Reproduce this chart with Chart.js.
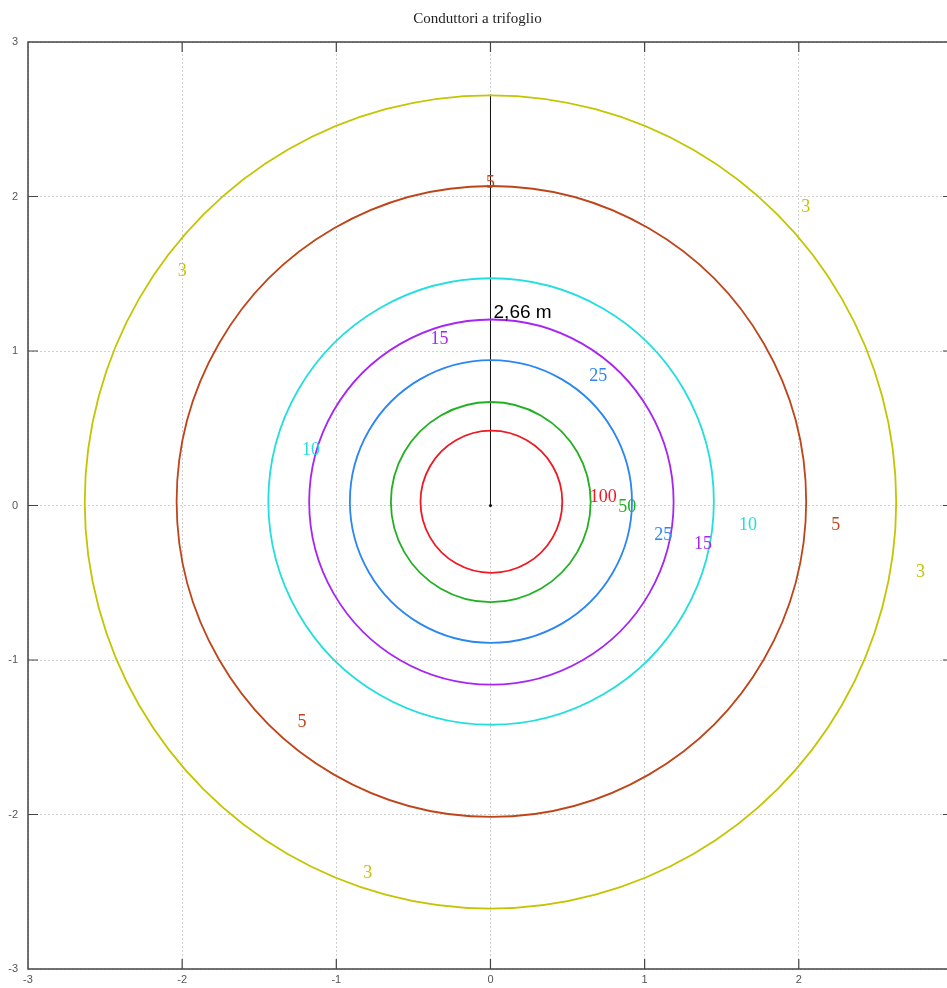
<!DOCTYPE html>
<html>
<head>
<meta charset="utf-8">
<script src="https://cdn.jsdelivr.net/npm/chart.js@4.4.1/dist/chart.umd.min.js"></script>
<style>
  html, body { margin: 0; padding: 0; background: #fff; overflow: hidden; }
  #wrap { position: relative; width: 960px; height: 988px; }
</style>
</head>
<body>
<div id="wrap"><canvas id="chart"></canvas></div>
<script>
// contour levels and colours
var levels = ['3', '5', '10', '15', '25', '50', '100'];
var levelColors = ['#c4c400', '#be4519', '#22dede', '#a824f2', '#2a86f2', '#22b022', '#ee1822'];

// points (x, y in m)
var contourX = [
  [2.632, 2.279, 1.316, 0.000, -1.316, -2.279, -2.632, -2.279, -1.316, 0.000, 1.316, 2.279],
  [2.048, 1.774, 1.027, 0.006, -1.015, -1.762, -2.036, -1.762, -1.015, 0.006, 1.027, 1.774],
  [1.449, 1.255, 0.727, 0.004, -0.719, -1.247, -1.441, -1.247, -0.719, 0.004, 0.727, 1.255],
  [1.188, 1.030, 0.597, 0.006, -0.585, -1.018, -1.176, -1.018, -0.585, 0.006, 0.597, 1.030],
  [0.918, 0.795, 0.461, 0.003, -0.455, -0.789, -0.912, -0.789, -0.455, 0.003, 0.461, 0.795],
  [0.650, 0.563, 0.326, 0.002, -0.322, -0.559, -0.646, -0.559, -0.322, 0.002, 0.326, 0.563],
  [0.466, 0.404, 0.236, 0.006, -0.224, -0.392, -0.454, -0.392, -0.224, 0.006, 0.236, 0.404]
];
var contourY = [
  [0.023, 1.339, 2.302, 2.655, 2.302, 1.339, 0.023, -1.293, -2.256, -2.609, -2.256, -1.293],
  [0.026, 1.047, 1.794, 2.068, 1.794, 1.047, 0.026, -0.995, -1.742, -2.016, -1.742, -0.995],
  [0.026, 0.749, 1.277, 1.471, 1.277, 0.749, 0.026, -0.697, -1.225, -1.419, -1.225, -0.697],
  [0.022, 0.613, 1.046, 1.204, 1.046, 0.613, 0.022, -0.569, -1.002, -1.160, -1.002, -0.569],
  [0.026, 0.484, 0.818, 0.941, 0.818, 0.484, 0.026, -0.432, -0.766, -0.889, -0.766, -0.432],
  [0.022, 0.346, 0.583, 0.670, 0.583, 0.346, 0.022, -0.302, -0.539, -0.626, -0.539, -0.302],
  [0.024, 0.254, 0.422, 0.484, 0.422, 0.254, 0.024, -0.206, -0.374, -0.436, -0.374, -0.206]
];

// contour labels
var labelText = ['3', '3', '3', '3', '5', '5', '5', '10', '10', '15', '15', '25', '25', '100', '50'];
var labelX = [-2.0, 2.045, 2.79, -0.796, 0.0, 2.24, -1.223, -1.165, 1.67, -0.33, 1.379, 0.699, 1.12, 0.731, 0.887];
var labelY = [1.515, 1.929, -0.434, -2.382, 2.084, -0.129, -1.404, 0.356, -0.129, 1.074, -0.252, 0.835, -0.194, 0.052, -0.013];
var labelLevel = [0, 0, 0, 0, 1, 1, 1, 2, 2, 3, 3, 4, 4, 6, 5];

// distance marker
var markerX = [0, 0];
var markerY = [0, 2.66];
var markerText = '2,66 m';

var axisTicks = [-3, -2, -1, 0, 1, 2, 3];

var datasets = [];
for (var i = 0; i < levels.length; i++) {
  var pts = [];
  for (var j = 0; j < contourX[i].length; j++) {
    pts.push({ x: contourX[i][j], y: contourY[i][j] });
  }
  datasets.push({
    label: levels[i],
    data: pts,
    borderColor: levelColors[i],
    borderWidth: 1.8,
    pointRadius: 0,
    tension: 0.35,
    fill: false,
    closed: true
  });
}
datasets.push({
  label: markerText,
  data: markerX.map(function (x, k) { return { x: x, y: markerY[k] }; }),
  borderColor: '#111',
  borderWidth: 1,
  pointRadius: [1.5, 0],
  pointBackgroundColor: '#111',
  pointBorderWidth: 0,
  tension: 0,
  fill: false
});

// close the contour lines smoothly
var loopPlugin = {
  id: 'loop',
  beforeDatasetsDraw: function (chart) {
    chart.data.datasets.forEach(function (ds, idx) {
      if (!ds.closed) return;
      var line = chart.getDatasetMeta(idx).dataset;
      line._loop = true;
      line._fullLoop = true;
      line._pointsUpdated = false;
      line._path = undefined;
      delete line._segments;
    });
  }
};

var framePlugin = {
  id: 'frame',
  afterDatasetsDraw: function (chart) {
    var ctx = chart.ctx;
    var a = chart.chartArea;
    var xs = chart.scales.x, ys = chart.scales.y;
    ctx.save();
    ctx.strokeStyle = '#444';
    ctx.lineWidth = 1.5;
    ctx.strokeRect(a.left, a.top, a.right - a.left, a.bottom - a.top);
    ctx.lineWidth = 1.2;
    ctx.beginPath();
    axisTicks.forEach(function (t) {
      if (t === -3 || t === 3) return;
      var px = xs.getPixelForValue(t);
      ctx.moveTo(px, a.bottom); ctx.lineTo(px, a.bottom - 10);
      ctx.moveTo(px, a.top); ctx.lineTo(px, a.top + 10);
      var py = ys.getPixelForValue(t);
      ctx.moveTo(a.left, py); ctx.lineTo(a.left + 10, py);
      ctx.moveTo(a.right, py); ctx.lineTo(a.right - 10, py);
    });
    ctx.stroke();

    // contour labels
    ctx.font = '18px "Liberation Serif", "Times New Roman", serif';
    ctx.textAlign = 'center';
    ctx.textBaseline = 'middle';
    for (var k = 0; k < labelText.length; k++) {
      ctx.fillStyle = levelColors[labelLevel[k]];
      ctx.fillText(labelText[k], xs.getPixelForValue(labelX[k]), ys.getPixelForValue(labelY[k]));
    }

    // distance label
    ctx.font = '19px "Liberation Sans", Arial, sans-serif';
    ctx.fillStyle = '#000';
    ctx.textAlign = 'left';
    ctx.fillText(markerText, xs.getPixelForValue(0.02), ys.getPixelForValue(1.25));
    ctx.restore();
  }
};

var tickFont = { family: '"Liberation Sans", Arial, sans-serif', size: 11 };

new Chart(document.getElementById('chart'), {
  type: 'line',
  data: { datasets: datasets },
  options: {
    responsive: true,
    maintainAspectRatio: false,
    animation: false,
    layout: { padding: { left: 0, right: 5, top: 0, bottom: 0 } },
    plugins: {
      legend: { display: false },
      tooltip: { enabled: false },
      title: {
        display: true,
        text: 'Conduttori a trifoglio',
        color: '#222',
        font: { family: '"Liberation Serif", "Times New Roman", serif', size: 15, weight: 'normal', lineHeight: 1.2 },
        padding: { top: 10, bottom: 14 }
      }
    },
    scales: {
      x: {
        type: 'linear',
        min: -3,
        max: 3,
        ticks: { stepSize: 1, color: '#555', font: tickFont, padding: 4, maxRotation: 0 },
        grid: { color: '#cfcfcf', lineWidth: 1, drawTicks: false },
        border: { display: false, dash: [2, 2] },
        afterFit: function (s) { s.height = 19; }
      },
      y: {
        type: 'linear',
        min: -3,
        max: 3,
        ticks: { stepSize: 1, color: '#555', font: tickFont, padding: 10 },
        grid: { color: '#cfcfcf', lineWidth: 1, drawTicks: false },
        border: { display: false, dash: [2, 2] },
        afterFit: function (s) { s.width = 28; }
      }
    }
  },
  plugins: [loopPlugin, framePlugin]
});
</script>
</body>
</html>
